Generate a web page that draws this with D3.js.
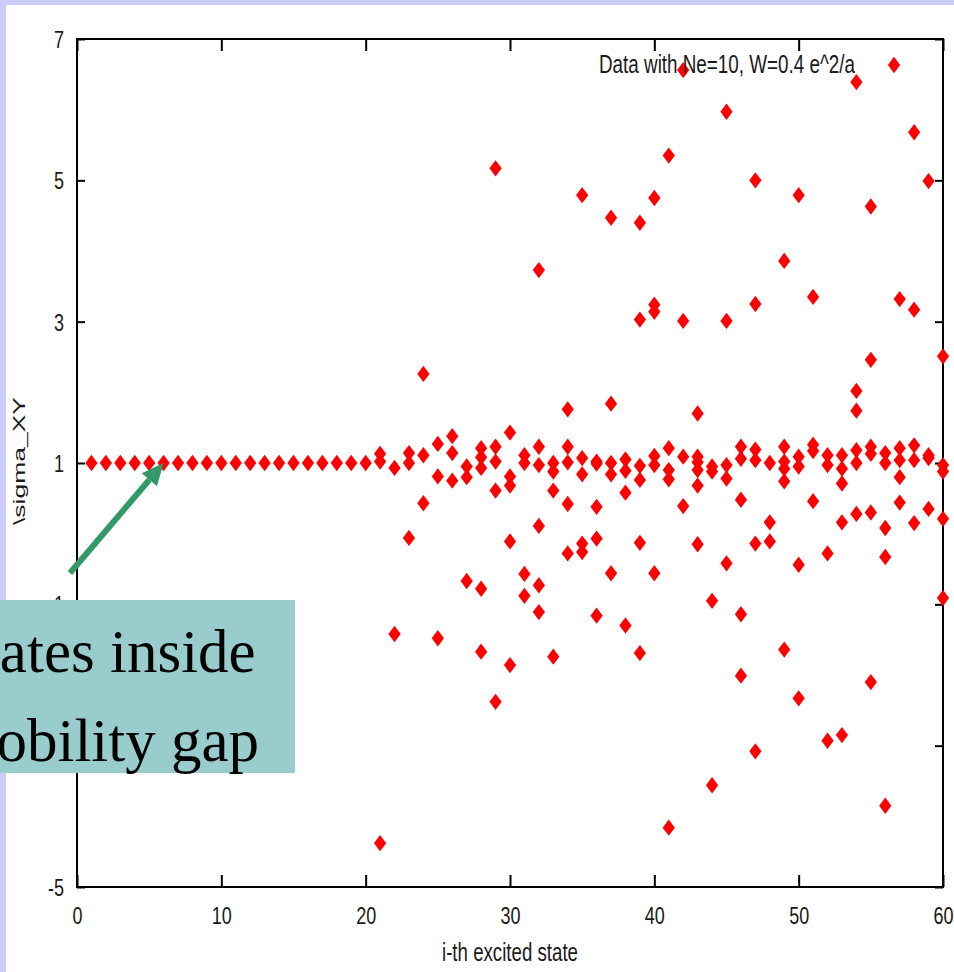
<!DOCTYPE html>
<html>
<head>
<meta charset="utf-8">
<script src="https://cdn.jsdelivr.net/npm/d3@7/dist/d3.min.js"></script>
<style>
  html, body { margin: 0; padding: 0; background: #ccccff; overflow: hidden; }
  svg { display: block; }
</style>
</head>
<body>
<svg id="chart" width="954" height="972"></svg>
<script>
// ---- data -------------------------------------------------------------
// i-th excited state (x) and the Hall conductance values sigma_XY found for it
const states = d3.range(1, 61);
const sigmaXY = [
  [1.0], [1.0], [1.0], [1.0], [1.0], [1.0], [1.0], [1.0], [1.0], [1.0],
  [1.0], [1.0], [1.0], [1.0], [1.0], [1.0], [1.0], [1.0], [1.0], [1.0],
  [1.13, 1.02, -4.38],                     // 21
  [0.93, -1.42],                           // 22
  [1.14, 1.0, -0.06],                      // 23
  [2.26, 1.11, 0.43],                      // 24
  [1.27, 0.81, -1.48],                     // 25
  [1.38, 1.14, 0.75],                      // 26
  [0.95, 0.80, -0.67],                     // 27
  [1.21, 1.08, 0.93, -0.78, -1.67],        // 28
  [5.17, 1.23, 1.02, 0.61, -2.38],         // 29
  [1.43, 0.81, 0.68, -0.11, -1.86],        // 30
  [1.11, 1.0, -0.57, -0.88],               // 31
  [3.73, 1.23, 0.97, 0.11, -0.73, -1.11],  // 32
  [1.0, 0.88, 0.61, -1.74],                // 33
  [1.76, 1.23, 1.01, 0.42, -0.28],         // 34
  [4.79, 1.07, 0.84, -0.14, -0.26],        // 35
  [1.02, 0.99, 0.38, -0.07, -1.16],        // 36
  [4.47, 1.84, 1.0, 0.84, -0.56],          // 37
  [1.05, 0.89, 0.58, -1.30],               // 38
  [4.40, 3.03, 0.96, 0.76, -0.13, -1.69],  // 39
  [4.75, 3.24, 3.14, 1.10, 0.97, -0.56],   // 40
  [5.35, 1.21, 0.90, 0.77, -4.16],         // 41
  [6.56, 3.01, 1.09, 0.39],                // 42
  [1.70, 1.09, 1.01, 0.90, 0.68, -0.15],   // 43
  [0.95, 0.88, -0.95, -3.56],              // 44
  [5.97, 3.01, 0.97, 0.78, -0.42],         // 45
  [1.23, 1.06, 0.48, -1.14, -2.01],        // 46
  [5.00, 3.25, 1.19, 1.04, -0.14, -3.08],  // 47
  [1.0, 0.16, -0.11],                      // 48
  [3.86, 1.23, 1.02, 0.92, 0.74, -1.64],   // 49
  [4.79, 1.09, 0.95, -0.44, -2.33],        // 50
  [3.35, 1.26, 1.17, 0.46],                // 51
  [1.11, 0.97, -0.28, -2.93],              // 52
  [1.11, 0.92, 0.71, 0.16, -2.85],         // 53
  [6.39, 2.02, 1.74, 1.18, 1.0, 0.28],     // 54
  [4.63, 2.46, 1.23, 1.13, 0.30, -2.10],   // 55
  [1.14, 1.0, 0.08, -0.33, -3.85],         // 56
  [3.32, 1.21, 1.04, 0.80, 0.44],          // 57
  [5.68, 3.17, 1.25, 1.04, 0.15],          // 58
  [4.99, 1.11, 1.07, 0.35],                // 59
  [2.51, 0.97, 0.88, 0.21, -0.91]          // 60
];
const xTicks = [0, 10, 20, 30, 40, 50, 60];
const yTicks = [-5, -3, -1, 1, 3, 5, 7];
// y tick labels; the one sitting under the caption box is left blank
const yTickLabels = ["-5", "", "-1", "1", "3", "5", "7"];
const xDomain = [0, 60];
const yDomain = [-5, 7];
const seriesLabel = "Data with Ne=10, W=0.4 e^2/a";
const xTitle = "i-th excited state";
const yTitle = "\\sigma_XY";
const noteLines = ["States inside", "mobility gap"];

// ---- layout -----------------------------------------------------------
const W = 954, H = 972;
const plot = { left: 77, right: 943, top: 39, bottom: 887 };
const SX = 0.75;                       // horizontal squeeze of the gnuplot font
const sans = "'Liberation Sans', Arial, Helvetica, sans-serif";
const red = "#ff0000";
const ink = "#1a1a1a";

const svg = d3.select("#chart");

// slide: lavender edge, white page
svg.append("rect").attr("x", 6).attr("y", 5).attr("width", W - 6).attr("height", H - 5).attr("fill", "#ffffff");

const x = d3.scaleLinear().domain(xDomain).range([plot.left, plot.right]);
const y = d3.scaleLinear().domain(yDomain).range([plot.bottom, plot.top]);

// ---- axes (ticks point inward, mirrored on top/right) -----------------
function styleAxis(g) {
  g.select(".domain").remove();
  g.selectAll(".tick line").attr("stroke", "#000").attr("stroke-width", 2);
}

const gBottom = svg.append("g").attr("transform", `translate(0,${plot.bottom})`)
  .call(d3.axisBottom(x).tickValues(xTicks).tickSizeInner(-12).tickSizeOuter(0).tickFormat(d => String(d)))
  .call(styleAxis);
gBottom.selectAll(".tick text")
  .attr("font-family", sans).attr("font-size", 24).attr("fill", ink)
  .attr("y", 37).attr("dy", 0).attr("transform", `scale(${SX},1)`);

svg.append("g").attr("transform", `translate(0,${plot.top})`)
  .call(d3.axisTop(x).tickValues(xTicks).tickSizeInner(-12).tickSizeOuter(0).tickFormat(""))
  .call(styleAxis);

const gLeft = svg.append("g").attr("transform", `translate(${plot.left},0)`)
  .call(d3.axisLeft(y).tickValues(yTicks).tickSizeInner(-8).tickSizeOuter(0)
    .tickFormat((d, i) => yTickLabels[i]))
  .call(styleAxis);
gLeft.selectAll(".tick text")
  .attr("font-family", sans).attr("font-size", 24).attr("fill", ink)
  .attr("text-anchor", "end").attr("x", -13 / SX).attr("dy", 8.5)
  .attr("transform", `scale(${SX},1)`);

svg.append("g").attr("transform", `translate(${plot.right},0)`)
  .call(d3.axisRight(y).tickValues(yTicks).tickSizeInner(-8).tickSizeOuter(0).tickFormat(""))
  .call(styleAxis);

// plot border
svg.append("rect")
  .attr("x", plot.left).attr("y", plot.top)
  .attr("width", plot.right - plot.left).attr("height", plot.bottom - plot.top)
  .attr("fill", "none").attr("stroke", "#000").attr("stroke-width", 2);

// ---- points -----------------------------------------------------------
const tallDiamond = {
  draw(ctx, size) {
    const hw = Math.sqrt(size / 2.667), hh = hw * 1.333;
    ctx.moveTo(0, -hh); ctx.lineTo(hw, 0); ctx.lineTo(0, hh); ctx.lineTo(-hw, 0); ctx.closePath();
  }
};
const marker = d3.symbol().type(tallDiamond).size(100);

const points = states.flatMap((s, i) => sigmaXY[i].map(v => ({ s, v })));
svg.append("g").selectAll("path")
  .data(points)
  .join("path")
  .attr("d", marker)
  .attr("transform", d => `translate(${x(d.s)},${y(d.v)})`)
  .attr("fill", red);

// ---- key --------------------------------------------------------------
const key = svg.append("g");
key.append("text")
  .attr("x", 855).attr("y", 73)
  .attr("text-anchor", "end")
  .attr("font-family", sans).attr("font-size", 25).attr("fill", ink)
  .attr("textLength", 256).attr("lengthAdjust", "spacingAndGlyphs")
  .text(seriesLabel);
key.append("path").attr("d", marker).attr("transform", "translate(894,65)").attr("fill", red);

// ---- axis titles ------------------------------------------------------
svg.append("text")
  .attr("transform", "translate(510,961)")
  .attr("text-anchor", "middle")
  .attr("font-family", sans).attr("font-size", 25).attr("fill", ink)
  .attr("textLength", 136).attr("lengthAdjust", "spacingAndGlyphs")
  .text(xTitle);

svg.append("text")
  .attr("transform", "translate(25,461) rotate(-90) scale(1,0.78)")
  .attr("text-anchor", "middle")
  .attr("font-family", sans).attr("font-size", 22).attr("fill", ink)
  .attr("textLength", 128).attr("lengthAdjust", "spacingAndGlyphs")
  .text(yTitle);

// ---- annotation: arrow and caption box ---------------------------------
const tail = [70, 573], tip = [x(6), y(1)];
const dx = tip[0] - tail[0], dy = tip[1] - tail[1];
const len = Math.hypot(dx, dy), ux = dx / len, uy = dy / len;
const headLen = 22, headHalf = 10;
const base = [tip[0] - ux * headLen, tip[1] - uy * headLen];
const green = "#339966";
svg.append("line")
  .attr("x1", tail[0]).attr("y1", tail[1]).attr("x2", base[0]).attr("y2", base[1])
  .attr("stroke", green).attr("stroke-width", 6);
svg.append("path")
  .attr("d", d3.line()([
    tip,
    [base[0] - uy * headHalf, base[1] + ux * headHalf],
    [base[0] + uy * headHalf, base[1] - ux * headHalf]
  ]) + "Z")
  .attr("fill", green);

const note = svg.append("g");
note.append("rect").attr("x", 0).attr("y", 600).attr("width", 295).attr("height", 173).attr("fill", "#99cccc");
note.selectAll("text")
  .data(noteLines)
  .join("text")
  .attr("x", -51)
  .attr("y", (d, i) => 672 + i * 89)
  .attr("font-family", "'Liberation Serif', 'Times New Roman', serif")
  .attr("font-size", 61)
  .attr("fill", "#000")
  .text(d => d);
</script>
</body>
</html>
